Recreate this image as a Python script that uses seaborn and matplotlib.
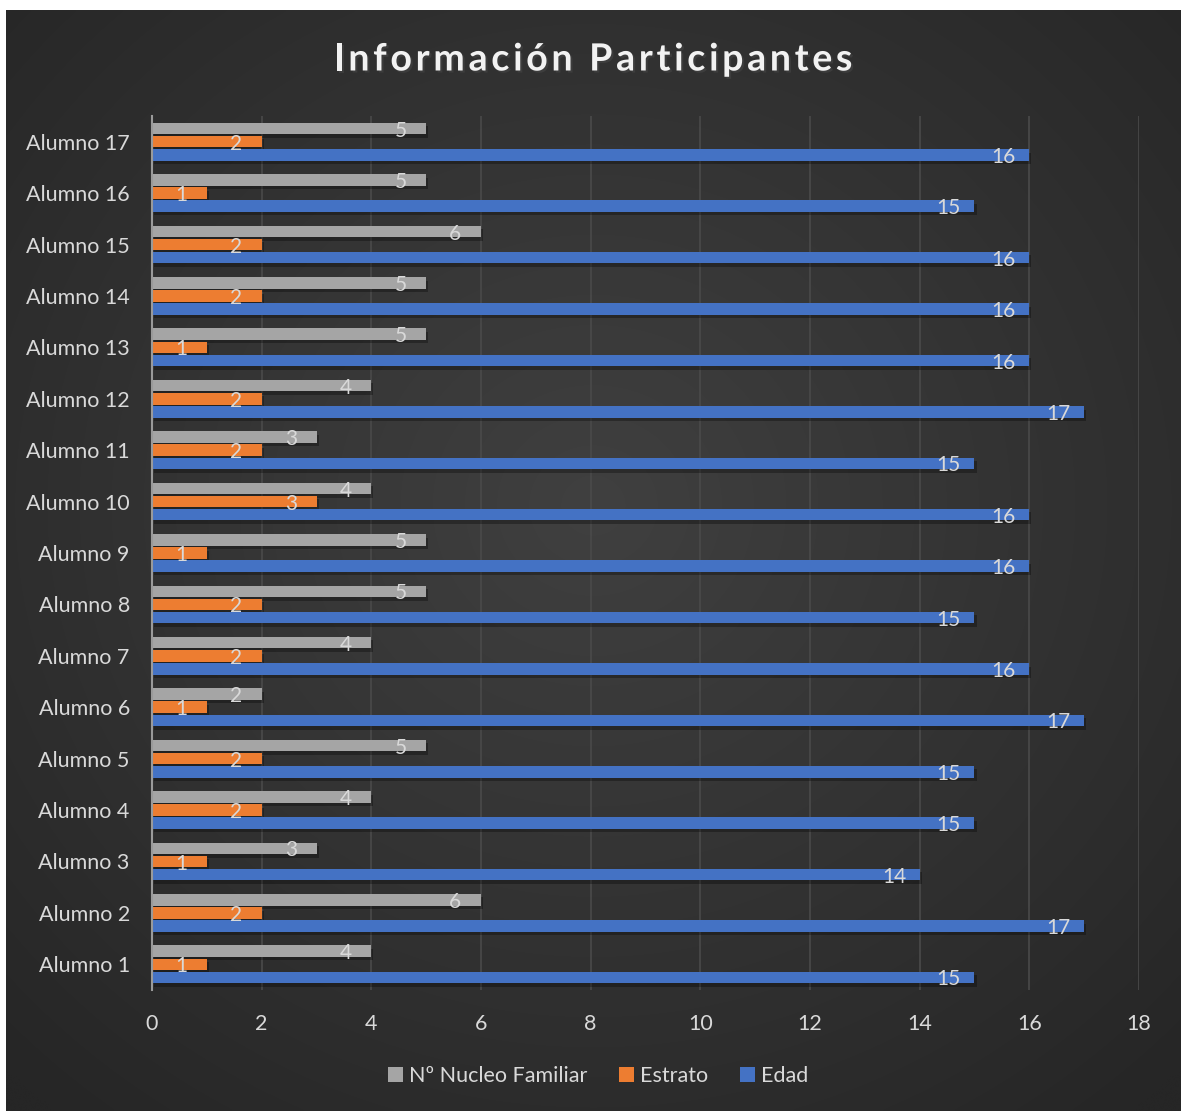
import numpy as np
import pandas as pd
import matplotlib
matplotlib.use("Agg")
import matplotlib.pyplot as plt
import matplotlib.patheffects as pe
from matplotlib.patches import Patch
import seaborn as sns

# ---------------- data ----------------
alumnos = [f"Alumno {i}" for i in range(1, 18)]
edad = [15, 17, 14, 15, 15, 17, 16, 15, 16, 16, 15, 17, 16, 16, 16, 15, 16]
estrato = [1, 2, 1, 2, 2, 1, 2, 2, 1, 3, 2, 2, 1, 2, 2, 1, 2]
nucleo = [4, 6, 3, 4, 5, 2, 4, 5, 5, 4, 3, 4, 5, 5, 6, 5, 5]
series = ["Nº Nucleo Familiar", "Estrato", "Edad"]
colors = ["#A5A5A5", "#ED7D31", "#4472C4"]
title = "Información Participantes"
xticks = [0, 2, 4, 6, 8, 10, 12, 14, 16, 18]

df = pd.DataFrame({
    "Alumno": alumnos * 3,
    "Serie": [series[0]] * 17 + [series[1]] * 17 + [series[2]] * 17,
    "Valor": nucleo + estrato + edad,
})

sns.set_theme(style="dark")
plt.rcParams["font.family"] = ["Lato", "DejaVu Sans"]

W, H = 1181, 1111
fig = plt.figure(figsize=(W / 100, H / 100), dpi=100)
fig.patch.set_facecolor("white")

# background panel with radial gradient
bg = fig.add_axes([6 / W, 0, (W - 6) / W, (H - 10) / H], zorder=-10)
yy, xx = np.mgrid[0:1:400j, 0:1:400j]
r = np.sqrt(((xx - 0.5) / 0.75) ** 2 + ((yy - 0.45) / 0.75) ** 2)
r = np.clip(r / 0.95, 0, 1)
c0 = np.array([0x40, 0x40, 0x40]) / 255
c1 = np.array([0x26, 0x26, 0x26]) / 255
img = c0[None, None, :] * (1 - r[..., None]) + c1[None, None, :] * r[..., None]
bg.imshow(img, aspect="auto", extent=[0, 1, 0, 1], interpolation="bicubic")
bg.set_axis_off()

ax = fig.add_axes([152 / W, 121 / H, (1139 - 152) / W, (990 - 116) / H])
ax.set_facecolor("none")

sns.barplot(data=df, y="Alumno", x="Valor", hue="Serie", order=alumnos[::-1],
            hue_order=series, palette=colors, orient="h", width=0.765, gap=0.12,
            saturation=1, ax=ax, legend=False, errorbar=None)

shadow = [pe.SimplePatchShadow(offset=(1.5, -2.5), shadow_rgbFace="black", alpha=0.3),
          pe.Normal()]
for p in ax.patches:
    p.set_path_effects(shadow)
    p.set_edgecolor("none")
    w = p.get_width()
    ax.annotate(f"{w:g}", (p.get_x() + w, p.get_y() + p.get_height() / 2),
                xytext=(-18.5, -1.5), textcoords="offset points", ha="center",
                va="center", color="#d9d9d9", fontsize=15)

ax.set_xlim(0, 18)
ax.set_xticks(xticks)
ax.set_ylim(16.5, -0.5)
ax.set_xlabel("")
ax.set_ylabel("")
ax.grid(axis="x", color="#4a4a4a", lw=1.2)
ax.grid(axis="y", visible=False)
ax.set_axisbelow(True)
for s in ["top", "right", "bottom"]:
    ax.spines[s].set_visible(False)
ax.spines["left"].set_color("#9a9a9a")
ax.spines["left"].set_linewidth(1.5)
ax.tick_params(axis="x", colors="#d9d9d9", labelsize=15.5, length=0, pad=17)
ax.tick_params(axis="y", colors="#d9d9d9", labelsize=15.5, length=0, pad=16)

# title with letter spacing
renderer = fig.canvas.get_renderer()
tkw = dict(fontsize=27, fontweight="bold")


def tw(s):
    t = fig.text(0, 0, s + "|", **tkw)
    w1 = t.get_window_extent(renderer).width
    t.remove()
    t = fig.text(0, 0, "|", **tkw)
    w2 = t.get_window_extent(renderer).width
    t.remove()
    return w1 - w2


target_w = 519.0
base_w = tw(title)
spacing = (target_w - base_w) / (len(title) - 1)
x_start = 593 - target_w / 2
for i, ch in enumerate(title):
    if ch == " ":
        continue
    x = x_start + tw(title[:i]) + i * spacing
    fig.text(x / W, 1 - 59.5 / H, ch, ha="left", va="center", color="#f2f2f2",
             path_effects=[pe.withSimplePatchShadow(offset=(1.5, -1.5), alpha=0.5)],
             **tkw)

handles = [Patch(facecolor=c, edgecolor="none") for c in colors]
fig.legend(handles, series, loc="center", bbox_to_anchor=(598 / W, 1 - 1076 / H),
           ncol=3, frameon=False, fontsize=15.5, labelcolor="#d9d9d9",
           handlelength=0.7, handleheight=0.7, handletextpad=0.25,
           columnspacing=1.5)

fig.savefig("out.png", dpi=100, facecolor=fig.get_facecolor())
